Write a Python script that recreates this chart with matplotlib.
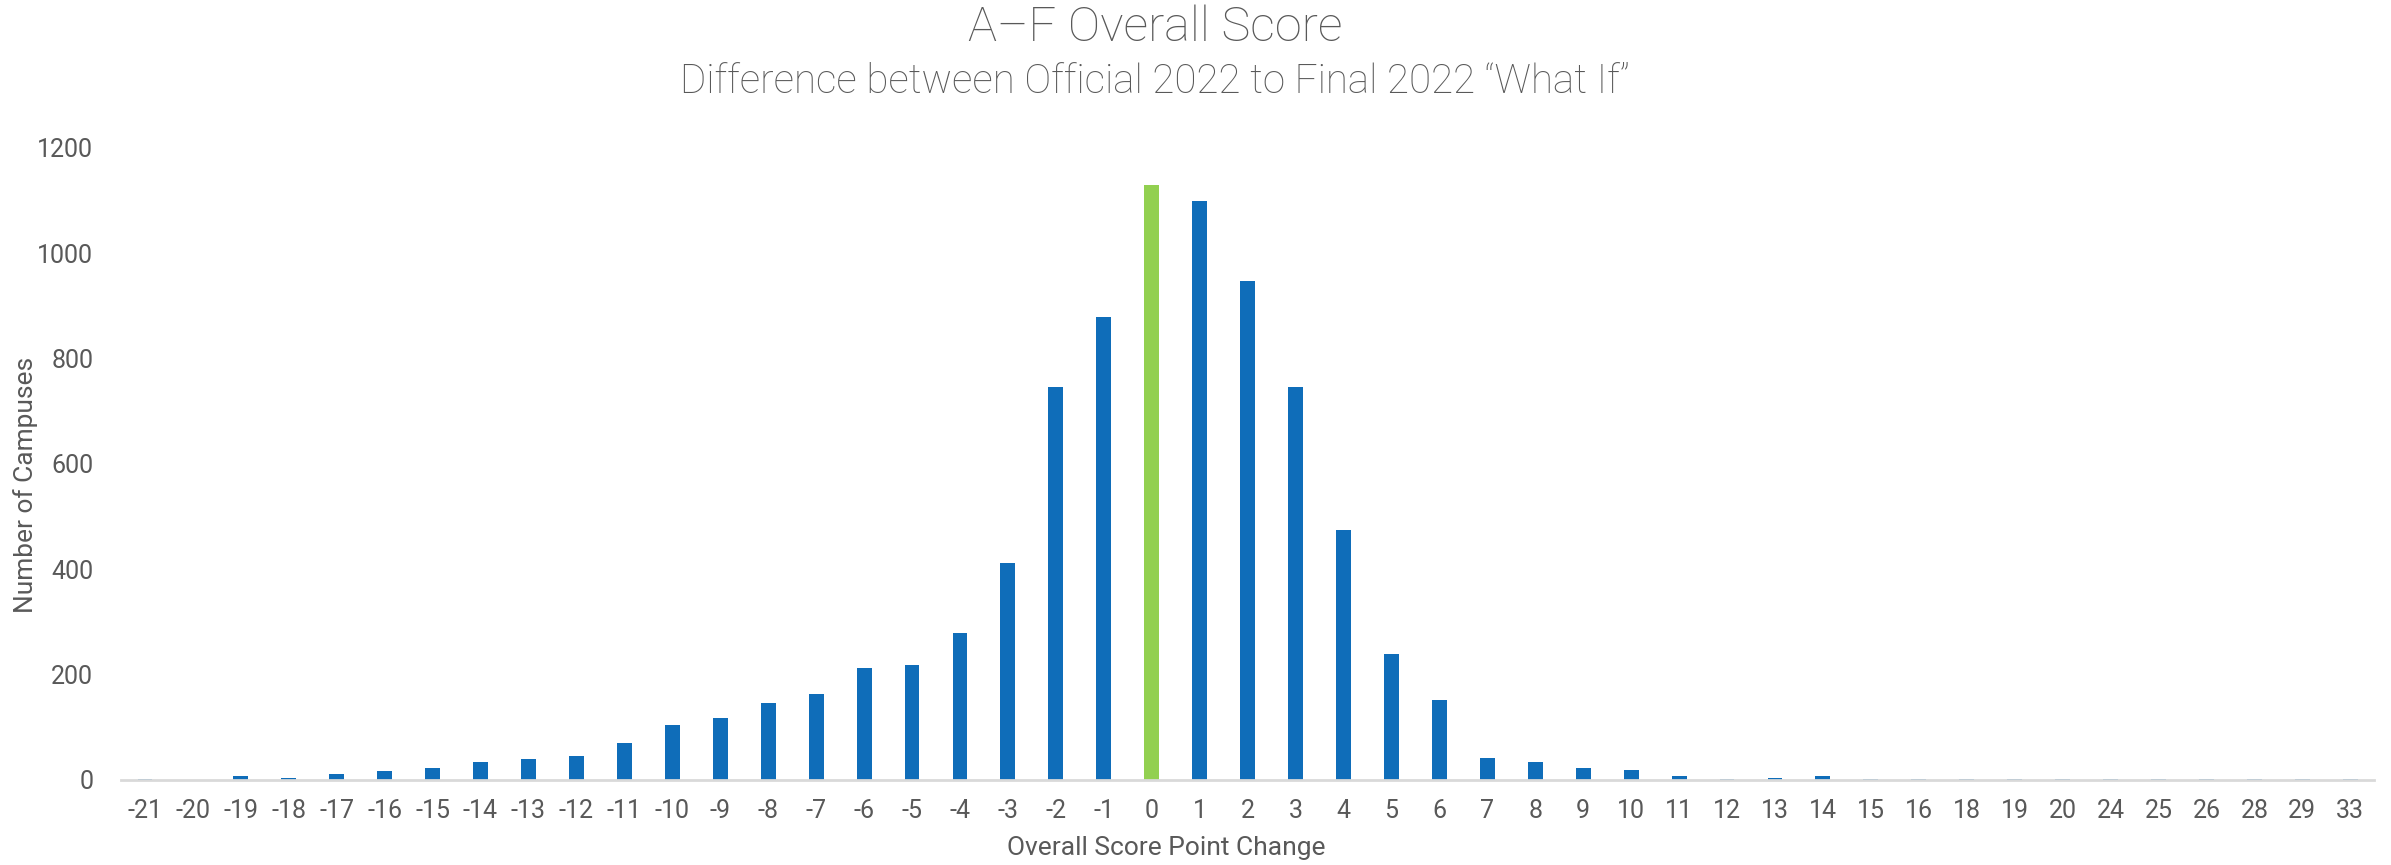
import matplotlib
matplotlib.use("Agg")
import matplotlib.pyplot as plt
from matplotlib import font_manager as fm

categories = ["-21", "-20", "-19", "-18", "-17", "-16", "-15", "-14", "-13", "-12",
              "-11", "-10", "-9", "-8", "-7", "-6", "-5", "-4", "-3", "-2", "-1",
              "0", "1", "2", "3", "4", "5", "6", "7", "8", "9", "10", "11", "12",
              "13", "14", "15", "16", "18", "19", "20", "24", "25", "26", "28", "29", "33"]
values = [2, 0, 6, 4, 10, 16, 23, 34, 40, 44,
          70, 103, 117, 145, 162, 212, 217, 278, 412, 745, 878,
          1130, 1100, 948, 745, 475, 238, 151, 42, 33, 22, 19, 6, 2,
          4, 6, 2, 1, 1, 1, 2, 1, 1, 1, 1, 1, 1]
highlight = "0"

names = {f.name for f in fm.fontManager.ttflist}
fam = [f for f in ["Liberation Sans Narrow", "Roboto", "DejaVu Sans"] if f in names]
plt.rcParams["font.family"] = fam

TEXT = "#595959"
BLUE = "#0F6DB9"
GREEN = "#92D050"

fig = plt.figure(figsize=(23.91, 8.65), dpi=100)
ax = fig.add_axes([0.0506, 0.0987, 0.9424, 0.7303])

x = list(range(len(categories)))
colors = [GREEN if c == highlight else BLUE for c in categories]
ax.bar(x, values, width=0.31, color=colors, zorder=2)

ax.set_xlim(-0.5, len(categories) - 0.5)
ax.set_ylim(0, 1200)
ax.set_yticks(range(0, 1201, 200))
ax.set_xticks(x)
ax.set_xticklabels(categories)

for s in ["top", "right", "left"]:
    ax.spines[s].set_visible(False)
ax.spines["bottom"].set_color("#D9D9D9")
ax.spines["bottom"].set_linewidth(2)
ax.spines["bottom"].set_zorder(3)
ax.tick_params(axis="both", length=0, colors=TEXT, labelsize=18)
ax.tick_params(axis="x", pad=14)
ax.tick_params(axis="y", pad=20)

ax.set_xlabel("Overall Score Point Change", color=TEXT, fontsize=19, va="center")
ax.set_ylabel("Number of Campuses", color=TEXT, fontsize=19, va="center")
ax.xaxis.set_label_coords(0.464, -0.108)
ax.yaxis.set_label_coords(-0.0423, 0.466)

fig.text(0.483, 0.968, "A–F Overall Score", ha="center", va="center",
         color=TEXT, fontsize=35, fontweight="light")
fig.text(0.483, 0.905, "Difference between Official 2022 to Final 2022 \u201cWhat If\u201d",
         ha="center", va="center", color=TEXT, fontsize=29, fontweight="light")

fig.savefig("out.png", dpi=100)
